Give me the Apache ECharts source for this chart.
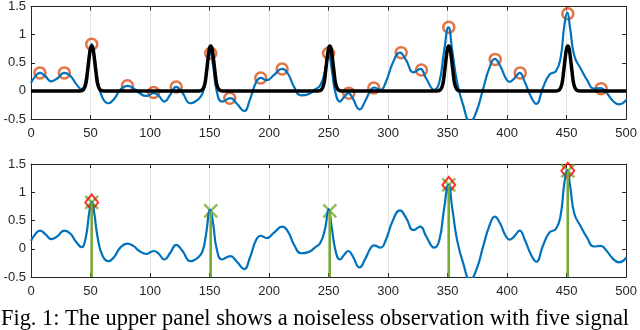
<!DOCTYPE html>
<html>
<head>
<meta charset="utf-8">
<script src="https://cdn.jsdelivr.net/npm/echarts@6/dist/echarts.min.js"></script>
<style>
  html, body { margin: 0; padding: 0; background: #fff; }
  #chart { width: 640px; height: 330px; }
</style>
</head>
<body>
<div id="chart"></div>
<script>
// noisy observation (blue)
var obsX = [0, 3, 7.5, 12, 17, 22, 28, 33, 38, 42.5, 46, 49, 51, 53, 56, 60, 65, 70, 75, 81,
    86, 91, 97, 103, 107, 112, 117, 122, 127, 134, 140, 144, 147, 150.5, 153, 156, 160.5, 167.5,
    173, 179, 184, 189, 193, 198, 204, 211, 216, 221, 227, 233, 239, 243, 247, 250, 252.5, 256,
    259.5, 263, 266.7, 270, 276, 281, 285, 288, 293.7, 298, 304, 310, 315, 321.5, 327, 332,
    338.8, 343, 347, 350.7, 354, 358, 363, 369, 374, 380, 385, 389.7, 394, 399, 402, 406, 410.5,
    415, 420, 424.5, 430, 435.6, 441, 445, 448, 450.5, 453, 456.5, 462, 467, 473, 478.7, 483,
    489, 494, 500];
var obsY = [0.14, 0.24, 0.32, 0.26, 0.17, 0.22, 0.32, 0.27, 0.12, 0.03, 0.2, 0.65, 0.83, 0.65,
    0.2, -0.12, -0.22, -0.14, 0.02, 0.09, 0.05, -0.04, -0.09, -0.04, -0.08, -0.19, -0.07, 0.07,
    -0.03, -0.22, -0.16, -0.05, 0.25, 0.69, 0.45, 0.0, -0.19, -0.13, -0.23, -0.36, -0.15, 0.15,
    0.23, 0.19, 0.28, 0.39, 0.3, 0.07, -0.08, -0.06, 0.03, 0.1, 0.35, 0.7, 0.4, -0.05, -0.19,
    -0.11, -0.04, -0.12, -0.33, -0.17, 0.0, 0.06, 0.02, 0.15, 0.5, 0.68, 0.55, 0.33, 0.39, 0.22,
    0.02, 0.15, 0.7, 1.13, 0.7, 0.15, -0.25, -0.55, -0.38, 0.05, 0.4, 0.57, 0.45, 0.22, 0.16,
    0.22, 0.32, 0.15, -0.1, -0.23, 0.05, 0.29, 0.35, 0.6, 1.15, 1.39, 1.1, 0.62, 0.39, 0.2, 0.04,
    0.05, -0.02, -0.18, -0.24, -0.16];

// local maxima picked on the top panel (orange circles)
var peakX = [7.5, 28, 51, 81, 103, 122, 151, 167, 193, 211, 250, 267, 288, 311, 328, 351, 390, 411, 451, 479];
var peakY = [0.32, 0.32, 0.83, 0.09, -0.03, 0.07, 0.67, -0.13, 0.23, 0.39, 0.67, -0.04, 0.05, 0.68, 0.37, 1.13, 0.56, 0.32, 1.37, 0.04];

// noiseless signal: five pulses of the same shape
var signalPos = [51, 151, 251, 351, 451];
var pulseOffsets = [-10, -7, -5, -3.5, -2, -1, 0, 1, 2, 3.5, 5, 7, 10];
var pulseShape = [0, 0.02, 0.12, 0.35, 0.62, 0.76, 0.8, 0.76, 0.62, 0.35, 0.12, 0.02, 0];

// bottom panel: detected positions and values
var stemX = [51, 151, 251, 351, 451];
var stemY = [0.82, 0.67, 0.67, 1.13, 1.38];
var chosenX = [51, 351, 451];
var chosenY = [0.82, 1.13, 1.38];

var xTicks = [0, 50, 100, 150, 200, 250, 300, 350, 400, 450, 500];
var yTicks = [-0.5, 0, 0.5, 1, 1.5];

var caption = 'Fig. 1: The upper panel shows a noiseless observation with five signal';

var blue = '#0072BD', orange = '#D95319', green = '#77AC30', axisCol = '#262626';
var yMin = yTicks[0], yMax = yTicks[yTicks.length - 1];

function pairs(xs, ys) {
    return xs.map(function (x, i) { return [x, ys[i]]; });
}

var obsData = pairs(obsX, obsY);

var signalData = [[xTicks[0], 0]];
signalPos.forEach(function (c) {
    pulseOffsets.forEach(function (o, i) { signalData.push([c + o, pulseShape[i]]); });
});
signalData.push([xTicks[xTicks.length - 1], 0]);

var stemData = [];
stemX.forEach(function (x, i) {
    stemData.push([x, yMin], [x, stemY[i]], '-');
});

var lineStyle = { color: axisCol, width: 1 };
var labelFont = { fontFamily: 'Liberation Sans', fontSize: 13, color: axisCol };

function xAx(grid, withLabels) {
    return {
        type: 'value', gridIndex: grid, min: 0, max: 500, interval: 50,
        position: withLabels ? 'bottom' : 'top',
        axisLine: { show: true, onZero: false, lineStyle: lineStyle },
        axisTick: { show: true, inside: true, length: 4, lineStyle: lineStyle },
        axisLabel: withLabels ? Object.assign({ show: true, margin: 8 }, labelFont) : { show: false },
        splitLine: { show: withLabels, lineStyle: { color: '#e3e3e3', width: 1 } }
    };
}
function yAx(grid, withLabels) {
    return {
        type: 'value', gridIndex: grid, min: yMin, max: yMax, interval: 0.5,
        position: withLabels ? 'left' : 'right',
        axisLine: { show: true, onZero: false, lineStyle: lineStyle },
        axisTick: { show: true, inside: true, length: 4, lineStyle: lineStyle },
        axisLabel: withLabels ? Object.assign({ show: true, margin: 5 }, labelFont) : { show: false },
        splitLine: { show: false }
    };
}

var chart = echarts.init(document.getElementById('chart'));
chart.setOption({
    animation: false,
    grid: [
        { left: 31, right: 12, top: 5, height: 114 },
        { left: 31, right: 12, top: 164, height: 113 }
    ],
    xAxis: [xAx(0, true), xAx(0, false), xAx(1, true), xAx(1, false)],
    yAxis: [yAx(0, true), yAx(0, false), yAx(1, true), yAx(1, false)],
    graphic: [{
        type: 'text', left: 1, top: 308,
        style: { text: caption, fontFamily: 'Liberation Serif', fontSize: 22.4, fill: '#000' }
    }],
    series: [
        {
            type: 'line', xAxisIndex: 0, yAxisIndex: 0, data: obsData, smooth: 0.5,
            showSymbol: false, lineStyle: { color: blue, width: 2.2 }
        },
        {
            type: 'line', xAxisIndex: 0, yAxisIndex: 0, data: signalData, smooth: 0.4,
            showSymbol: false, lineStyle: { color: '#000', width: 3.5 }
        },
        {
            type: 'scatter', xAxisIndex: 0, yAxisIndex: 0, data: pairs(peakX, peakY),
            symbol: 'circle', symbolSize: 11,
            itemStyle: { color: 'rgba(0,0,0,0)', borderColor: orange, borderWidth: 2.5 }
        },
        {
            type: 'line', xAxisIndex: 2, yAxisIndex: 2, data: obsData, smooth: 0.5,
            showSymbol: false, lineStyle: { color: blue, width: 2.2 }
        },
        {
            type: 'line', xAxisIndex: 2, yAxisIndex: 2, data: stemData, connectNulls: false,
            showSymbol: false, lineStyle: { color: green, width: 2.5 }
        },
        {
            type: 'scatter', xAxisIndex: 2, yAxisIndex: 2, data: pairs(stemX, stemY),
            symbol: 'path://M0,0L10,10M10,0L0,10', symbolSize: 13,
            itemStyle: { color: 'rgba(0,0,0,0)', borderColor: green, borderWidth: 2.5 }
        },
        {
            type: 'scatter', xAxisIndex: 2, yAxisIndex: 2, data: pairs(chosenX, chosenY),
            symbol: 'diamond', symbolSize: [13, 16],
            itemStyle: { color: 'rgba(0,0,0,0)', borderColor: '#ff0000', borderWidth: 2 }
        }
    ]
});
</script>
</body>
</html>
